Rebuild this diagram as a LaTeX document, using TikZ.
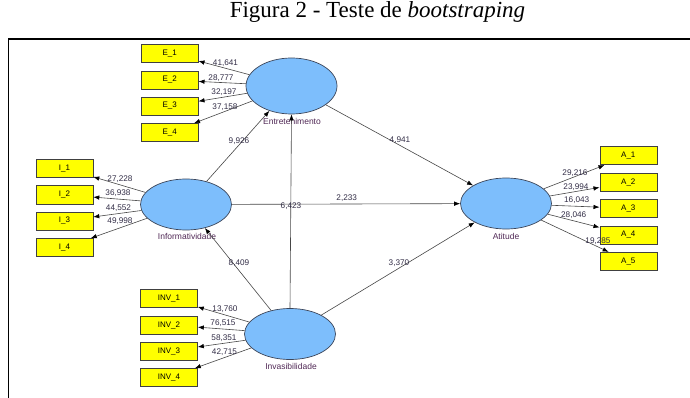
\documentclass[tikz,border=0pt]{standalone}
\usepackage{fontspec}
\setmainfont{Liberation Serif}
\newfontfamily\diagfont{Liberation Sans}
\usetikzlibrary{shapes.geometric,arrows.meta}
\definecolor{lvblue}{RGB}{125,190,252}
\definecolor{lvedge}{RGB}{60,70,90}
\definecolor{mvyellow}{RGB}{255,255,0}
\definecolor{lvtext}{RGB}{80,40,85}
\definecolor{coeftext}{RGB}{50,45,70}
\definecolor{pathline}{RGB}{70,70,70}
\tikzset{
  latent/.style={ellipse, draw=lvedge, fill=lvblue, line width=0.7pt, inner sep=0pt,
    minimum width=91pt, minimum height=51pt},
  manifest/.style={rectangle, draw=black!75, fill=mvyellow, line width=0.6pt, inner sep=0pt,
    minimum width=57pt, minimum height=18pt, font=\diagfont\fontsize{8}{9}\selectfont},
  lvlabel/.style={font=\diagfont\fontsize{8.5}{10}\selectfont, text=lvtext, inner sep=0pt},
  coef/.style={font=\diagfont\fontsize{8.2}{9}\selectfont, text=coeftext, inner sep=0pt},
  arr/.style={draw=pathline, line width=0.6pt, -{Latex[length=6pt,width=4.5pt,color=black]}},
  frameline/.style={line width=1.8pt, draw=black}
}
\begin{document}
\begin{tikzpicture}[x=1pt,y=-1pt]
\useasboundingbox (0,0) rectangle (690,398);

% caption and frame
\node (title) at (377.5,12) {\fontsize{23}{26}\selectfont Figura 2 - Teste de \textit{bootstraping}};
\coordinate (frTR) at (690,39);
\coordinate (frTL) at (8.5,39);
\coordinate (frBL) at (8.5,398);
\draw[frameline] (frTR) -- (frTL) -- (frBL);

% latent variables
\node[latent, minimum height=56pt] (ent) at (291.5,86) {};
\node[latent] (inf) at (186,204.5) {};
\node[latent] (inv) at (290,334) {};
\node[latent] (ati) at (506,203.5) {};

\node[lvlabel] (entlab) at (292,121) {Entretenimento};
\node[lvlabel] (inflab) at (187,236) {Informatividade};
\node[lvlabel] (invlab) at (291,366) {Invasibilidade};
\node[lvlabel] (atilab) at (506,236) {Atitude};

% indicators
\node[manifest] (e1) at (169.7,53.3) {E\_1};
\node[manifest] (e2) at (169.7,80) {E\_2};
\node[manifest] (e3) at (169.7,106) {E\_3};
\node[manifest] (e4) at (169.7,132.5) {E\_4};

\node[manifest] (i1) at (64.5,168.3) {I\_1};
\node[manifest] (i2) at (64.5,194.8) {I\_2};
\node[manifest] (i3) at (64.5,220.8) {I\_3};
\node[manifest] (i4) at (64.5,247.5) {I\_4};

\node[manifest] (v1) at (169,298.5) {INV\_1};
\node[manifest] (v2) at (169,325) {INV\_2};
\node[manifest] (v3) at (169,351) {INV\_3};
\node[manifest] (v4) at (169,377.5) {INV\_4};

\node[manifest] (a1) at (628.3,155.8) {A\_1};
\node[manifest] (a2) at (628.3,182.5) {A\_2};
\node[manifest] (a3) at (628.3,208.3) {A\_3};
\node[manifest] (a4) at (628.3,234.8) {A\_4};
\node[manifest] (a5) at (628.3,261.2) {A\_5};

% outer model
\foreach \lv/\mv in {ent/e1,ent/e2,ent/e3,ent/e4,inf/i1,inf/i2,inf/i3,inf/i4,
                     inv/v1,inv/v2,inv/v3,inv/v4,ati/a1,ati/a2,ati/a3,ati/a4,ati/a5}
  \draw[arr] (\lv) -- (\mv);

% inner model
\draw[arr] (inf) -- (ent);
\draw[arr] (inv.north) -- (ent.south);
\draw[arr] (inv) -- (inf);
\draw[arr] (inf) -- (ati);
\draw[arr] (ent) -- (ati);
\draw[arr] (inv) -- (ati);

% t values
\node[coef] (ce1) at (225.5,63) {41,641};
\node[coef] (ce2) at (221,78.3) {28,777};
\node[coef] (ce3) at (224,91.7) {32,197};
\node[coef] (ce4) at (225,107.3) {37,158};

\node[coef] (ci1) at (120,179) {27,228};
\node[coef] (ci2) at (118,193.3) {36,938};
\node[coef] (ci3) at (118.5,208) {44,552};
\node[coef] (ci4) at (120,221) {49,998};

\node[coef] (cv1) at (225,309.3) {13,760};
\node[coef] (cv2) at (223,323.3) {76,515};
\node[coef] (cv3) at (224,338.3) {58,351};
\node[coef] (cv4) at (224.5,351.7) {42,715};

\node[coef] (ca1) at (575,172.7) {29,216};
\node[coef] (ca2) at (576,186.7) {23,994};
\node[coef] (ca3) at (576.7,200) {16,043};
\node[coef] (ca4) at (573.7,215) {28,046};
\node[coef] (ca5) at (598,241) {19,285};

\node[coef] (cinfent) at (239,141) {9,926};
\node[coef] (cinvinf) at (239,263.3) {8,409};
\node[coef] (cinvent) at (291,205.7) {6,423};
\node[coef] (cinfati) at (346.7,197.7) {2,233};
\node[coef] (centati) at (400,140) {4,941};
\node[coef] (cinvati) at (399,263.3) {3,370};
\end{tikzpicture}
\end{document}
